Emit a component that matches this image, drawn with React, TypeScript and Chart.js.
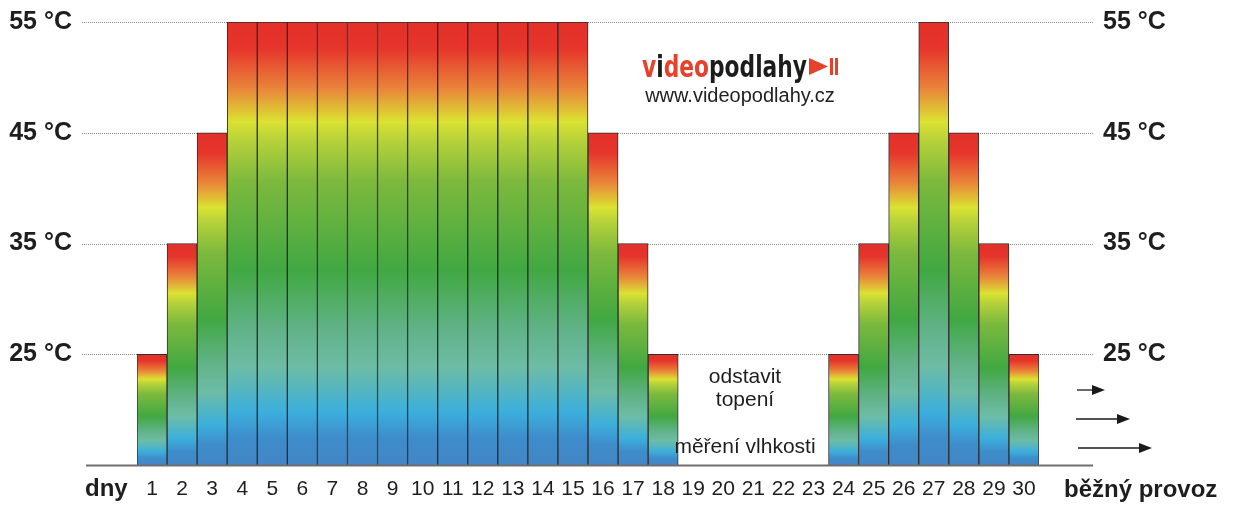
import React, { useEffect, useRef } from "react";
import { Chart, registerables } from "chart.js";

Chart.register(...registerables);

// ---- data ----
const dayLabels = ["1","2","3","4","5","6","7","8","9","10","11","12","13","14","15","16","17","18","19","20","21","22","23","24","25","26","27","28","29","30"];
const temperatures: (number | null)[] = [25,35,45,55,55,55,55,55,55,55,55,55,55,55,55,45,35,25,null,null,null,null,null,25,35,45,55,45,35,25];
const yTickValues = [25, 35, 45, 55];
const yMin = 15;
const yMax = 55;
const xStartLabel = "dny";
const xEndLabel = "běžný provoz";
const logoParts: [string, string][] = [["v", "#e5412b"], ["i", "#1c1c1c"], ["deo", "#e5412b"], ["podlahy", "#1c1c1c"]];
const logoUrl = "www.videopodlahy.cz";
const noteLines = ["odstavit", "topení"];
const noteMeasure = "měření vlhkosti";

const FONT = "'Liberation Sans', Arial, sans-serif";
const TEXT = "#1e1e1e";

const gradientStops: [number, string][] = [
  [0.0, "#e3302a"],
  [0.06, "#e6352b"],
  [0.15, "#e9843a"],
  [0.225, "#dbe232"],
  [0.27, "#b5d13a"],
  [0.36, "#7db93d"],
  [0.56, "#41a842"],
  [0.7, "#62b38b"],
  [0.78, "#6dbca6"],
  [0.88, "#3cafdc"],
  [0.94, "#3e8ccb"],
  [1.0, "#4386c4"],
];

function barFill(ctx: any) {
  const chart = ctx.chart;
  const v = ctx.raw;
  const ys = chart.scales && chart.scales.y;
  if (!chart.chartArea || !ys || v == null) return "#4caf50";
  const top = ys.getPixelForValue(v);
  const bottom = ys.getPixelForValue(yMin);
  const g = chart.ctx.createLinearGradient(0, top, 0, bottom);
  gradientStops.forEach(([o, c]) => g.addColorStop(o, c));
  return g;
}

const overlayPlugin = {
  id: "overlay",
  beforeDatasetsDraw(chart: any) {
    const { ctx } = chart;
    const ys = chart.scales.y;
    ctx.save();
    ctx.strokeStyle = "#8c8c8c";
    ctx.lineWidth = 1;
    ctx.setLineDash([1, 1]);
    yTickValues.forEach((v) => {
      const py = Math.round(ys.getPixelForValue(v)) + 0.5;
      ctx.beginPath();
      ctx.moveTo(82, py);
      ctx.lineTo(1093, py);
      ctx.stroke();
    });
    ctx.restore();
  },
  afterDatasetsDraw(chart: any) {
    const { ctx } = chart;
    const ys = chart.scales.y;
    const base = ys.getPixelForValue(yMin);
    ctx.save();
    // x axis line
    ctx.strokeStyle = "#6e6e6e";
    ctx.lineWidth = 2;
    ctx.beginPath();
    ctx.moveTo(86, base + 0.5);
    ctx.lineTo(1093, base + 0.5);
    ctx.stroke();

    // axis end labels
    ctx.fillStyle = TEXT;
    ctx.font = `bold 24px ${FONT}`;
    ctx.textBaseline = "alphabetic";
    ctx.textAlign = "left";
    ctx.fillText(xStartLabel, 85, 496);
    ctx.fillText(xEndLabel, 1064, 497);

    // notes in the gap
    ctx.font = `21px ${FONT}`;
    ctx.textAlign = "center";
    ctx.fillText(noteLines[0], 745, 383);
    ctx.fillText(noteLines[1], 745, 406);
    ctx.fillText(noteMeasure, 745, 453);

    // arrows
    const arrows: [number, number, number][] = [[1077, 1105, 390], [1076, 1130, 419], [1078, 1152, 448]];
    ctx.strokeStyle = "#1a1a1a";
    ctx.fillStyle = "#1a1a1a";
    ctx.lineWidth = 1.3;
    arrows.forEach(([x1, x2, y]) => {
      ctx.beginPath();
      ctx.moveTo(x1, y);
      ctx.lineTo(x2 - 10, y);
      ctx.stroke();
      ctx.beginPath();
      ctx.moveTo(x2, y);
      ctx.lineTo(x2 - 13, y - 5);
      ctx.lineTo(x2 - 13, y + 5);
      ctx.closePath();
      ctx.fill();
    });

    // logo
    ctx.font = `bold 30px 'Liberation Sans Narrow', 'DejaVu Sans Condensed', ${FONT}`;
    ctx.textAlign = "left";
    const full = logoParts.map((p) => p[0]).join("");
    const w = ctx.measureText(full).width;
    const sx = 165 / w;
    ctx.save();
    ctx.translate(642, 77);
    ctx.scale(sx, 1);
    let x = 0;
    logoParts.forEach(([t, c]) => {
      ctx.fillStyle = c;
      ctx.fillText(t, x, 0);
      x += ctx.measureText(t).width;
    });
    ctx.restore();
    ctx.fillStyle = "#e5412b";
    ctx.beginPath();
    ctx.moveTo(809, 58);
    ctx.lineTo(828, 66.5);
    ctx.lineTo(809, 75);
    ctx.closePath();
    ctx.fill();
    ctx.fillRect(830, 58, 3, 17);
    ctx.fillRect(835, 58, 3, 17);

    ctx.fillStyle = "#222";
    ctx.font = `20px ${FONT}`;
    ctx.textAlign = "center";
    ctx.fillText(logoUrl, 740, 102);
    ctx.restore();
  },
};

export default function App() {
  const ref = useRef<HTMLCanvasElement | null>(null);
  useEffect(() => {
    if (!ref.current) return;
    const yAxisCommon = {
      min: yMin,
      max: yMax,
      grid: { display: false, drawTicks: false },
      border: { display: false },
      afterBuildTicks(s: any) {
        s.ticks = yTickValues.map((v) => ({ value: v }));
      },
    };
    const chart = new Chart(ref.current, {
      type: "bar",
      data: {
        labels: dayLabels,
        datasets: [
          {
            data: temperatures,
            backgroundColor: barFill as any,
            borderColor: "#2e2e2e",
            borderWidth: 1,
            barPercentage: 1,
            categoryPercentage: 1,
          },
        ],
      },
      options: {
        animation: false,
        responsive: true,
        maintainAspectRatio: false,
        layout: { padding: { top: 22, left: 0, right: 0, bottom: 0 } },
        plugins: { legend: { display: false }, tooltip: { enabled: false } },
        scales: {
          x: {
            grid: { display: false, drawTicks: false },
            border: { display: false },
            ticks: { font: { family: FONT, size: 21 }, color: TEXT, padding: 12, maxRotation: 0, autoSkip: false },
            afterFit(s: any) {
              s.height = 40;
            },
          },
          y: {
            ...yAxisCommon,
            position: "left",
            ticks: { callback: (v: any) => `${v} °C`, font: { family: FONT, size: 25, weight: "bold" }, color: TEXT, padding: 65 },
            afterFit(s: any) {
              s.width = 137;
              s.paddingTop = 0;
              s.paddingBottom = 0;
            },
          },
          y2: {
            ...yAxisCommon,
            position: "right",
            ticks: { callback: (v: any) => `${v} °C`, font: { family: FONT, size: 25, weight: "bold" }, color: TEXT, padding: 64 },
            afterFit(s: any) {
              s.width = 200;
              s.paddingTop = 0;
              s.paddingBottom = 0;
            },
          },
        },
      } as any,
      plugins: [overlayPlugin],
    });
    return () => chart.destroy();
  }, []);
  return (
    <div style={{ position: "fixed", left: 0, top: 0, width: 1239, height: 505, background: "#fff" }}>
      <canvas ref={ref} />
    </div>
  );
}
